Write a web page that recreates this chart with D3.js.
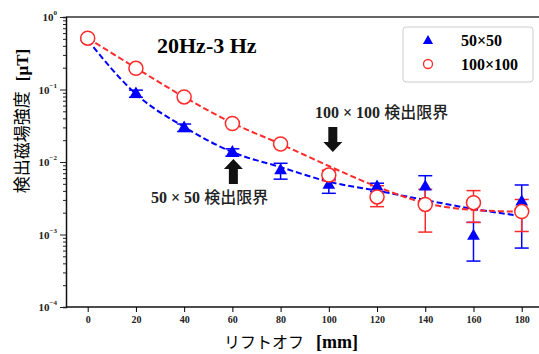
<!DOCTYPE html>
<html>
<head>
<meta charset="utf-8">
<script src="https://cdn.jsdelivr.net/npm/d3@7"></script>
<style>
body { margin: 0; background: #fff; }
text { font-family: "Liberation Serif", "Times New Roman", serif; }
</style>
</head>
<body>
<div id="chart"></div>
<script>
// lift-off distance [mm]
var liftoff = [0, 20, 40, 60, 80, 100, 120, 140, 160, 180];

// 50x50 series (measured, error bar low/high, fitted curve)
var s50     = [0.50, 0.087, 0.0297, 0.0136, 0.0076, 0.0048, 0.00456, 0.00456, 0.00095, 0.00283];
var s50Lo   = [0.47, 0.078, 0.0263, 0.0120, 0.0058, 0.0037, 0.0039, 0.00265, 0.00043, 0.00065];
var s50Hi   = [0.53, 0.098, 0.0334, 0.0152, 0.0096, 0.0058, 0.0051, 0.00647, 0.00147, 0.00482];
var s50Fit  = [0.48, 0.0867, 0.0304, 0.0137, 0.0085, 0.00535, 0.00402, 0.00299, 0.00225, 0.0018];

// 100x100 series
var s100    = [0.51, 0.196, 0.079, 0.034, 0.0177, 0.0066, 0.0033, 0.0026, 0.00275, 0.00207];
var s100Lo  = [0.48, 0.185, 0.075, 0.032, 0.0168, 0.0055, 0.00242, 0.00108, 0.00147, 0.0011];
var s100Hi  = [0.54, 0.208, 0.083, 0.036, 0.0187, 0.0077, 0.00471, 0.0042, 0.00403, 0.00304];
var s100Fit = [0.513, 0.198, 0.0788, 0.0345, 0.0177, 0.0088, 0.00456, 0.00272, 0.00218, 0.00206];

var xTicks = [0, 20, 40, 60, 80, 100, 120, 140, 160, 180];
var yTicks = [1, 0.1, 0.01, 0.001, 0.0001];
var yExp   = ["0", "\u22121", "\u22122", "\u22123", "\u22124"];

var blue = "#0000ff", red = "#ff2a2a";

var W = 539, H = 354;
var margin = {top: 17, left: 66, right: 0, bottom: 47};
var width = W - margin.left - margin.right + 2,
    height = H - margin.top - margin.bottom;

var svg = d3.select("#chart").append("svg")
    .attr("width", W).attr("height", H);

var g = svg.append("g").attr("transform", "translate(" + margin.left + "," + margin.top + ")");

var x = d3.scaleLinear().domain([-9, 188]).range([0, width]);
var y = d3.scaleLog().domain([1e-4, 1]).range([height, 0]);

// frame
g.append("line").attr("x1", 0).attr("x2", width).attr("y1", 0).attr("y2", 0)
  .attr("stroke", "#666").attr("stroke-width", 2);

// y axis with log minor ticks
var yAxis = g.append("g").attr("class", "axis axis--y")
  .call(d3.axisLeft(y).tickValues(y.ticks()).tickSize(3).tickFormat(""));
yAxis.selectAll(".tick line").attr("x2", function(d) {
  return yTicks.indexOf(d) >= 0 ? -6 : -3;
}).attr("stroke", "#222");
yAxis.select(".domain").attr("stroke", "#111").attr("stroke-width", 1.5);

var yl = g.selectAll(".ylab").data(yTicks).enter().append("text")
  .attr("class", "ylab")
  .attr("x", -9).attr("y", function(d) { return y(d) + 4; })
  .attr("text-anchor", "end")
  .style("font-size", "11px").style("font-weight", "bold").attr("fill", "#222");
yl.append("tspan").text("10");
yl.append("tspan").attr("dy", -6).style("font-size", "7px").text(function(d, i) { return yExp[i]; });

// x axis
var xAxis = g.append("g").attr("class", "axis axis--x")
  .attr("transform", "translate(0," + height + ")")
  .call(d3.axisBottom(x).tickValues(xTicks).tickSize(5).tickPadding(4));
xAxis.select(".domain").attr("stroke", "#111").attr("stroke-width", 1.5).attr("d", "M0,0H" + width);
xAxis.selectAll("text").style("font-family", "Liberation Serif").style("font-size", "10px")
  .style("font-weight", "bold").attr("fill", "#222");

// axis titles
var yt = svg.append("text")
  .attr("transform", "translate(28,121) rotate(-90)")
  .attr("text-anchor", "middle");
yt.append("tspan").style("font-family", "'Noto Sans CJK JP', sans-serif").style("font-size", "17px")
  .text("検出磁場強度");
yt.append("tspan").attr("dx", 10).style("font-weight", "bold").style("font-size", "17px").text("[μT]");

var xt = svg.append("text")
  .attr("x", 291).attr("y", 348)
  .attr("text-anchor", "middle");
xt.append("tspan").style("font-family", "'Noto Sans CJK JP', sans-serif").style("font-size", "16px")
  .text("リフトオフ");
xt.append("tspan").attr("dx", 12).style("font-weight", "bold").style("font-size", "18px").text("[mm]");

// fit lines
function fitLine(vals, color) {
  var line = d3.line()
    .x(function(d, i) { return x(liftoff[i]); })
    .y(function(d) { return y(d); })
    .curve(d3.curveMonotoneX);
  g.append("path").datum(vals)
    .attr("fill", "none").attr("stroke", color).attr("stroke-width", 2)
    .attr("stroke-dasharray", "6,3").attr("d", line);
}
fitLine(s50Fit, blue);
fitLine(s100Fit, red);

// error bars
function errBars(lo, hi, color) {
  var eb = g.append("g").selectAll("g").data(liftoff).enter().append("g");
  eb.append("line")
    .attr("x1", function(d) { return x(d); }).attr("x2", function(d) { return x(d); })
    .attr("y1", function(d, i) { return y(lo[i]); }).attr("y2", function(d, i) { return y(hi[i]); })
    .attr("stroke", color).attr("stroke-width", 1.5);
  [lo, hi].forEach(function(arr) {
    eb.append("line")
      .attr("x1", function(d) { return x(d) - 7; }).attr("x2", function(d) { return x(d) + 7; })
      .attr("y1", function(d, i) { return y(arr[i]); }).attr("y2", function(d, i) { return y(arr[i]); })
      .attr("stroke", color).attr("stroke-width", 1.5);
  });
}
errBars(s50Lo, s50Hi, blue);
errBars(s100Lo, s100Hi, red);

// markers
g.selectAll(".tri").data(s50).enter().append("path").attr("class", "tri")
  .attr("d", d3.symbol(d3.symbolTriangle, 70))
  .attr("transform", function(d, i) { return "translate(" + x(liftoff[i]) + "," + y(d) + ")"; })
  .attr("fill", blue);
g.selectAll(".circ").data(s100).enter().append("circle").attr("class", "circ")
  .attr("cx", function(d, i) { return x(liftoff[i]); })
  .attr("cy", function(d) { return y(d); })
  .attr("r", 7).attr("fill", "#fff").attr("stroke", red).attr("stroke-width", 1.5);

// title
svg.append("text").attr("x", 157).attr("y", 53)
  .style("font-size", "22px").style("font-weight", "bold").text("20Hz-3 Hz");

// legend
var lg = svg.append("g").attr("transform", "translate(403,27)");
lg.append("rect").attr("width", 130).attr("height", 55).attr("rx", 3)
  .attr("fill", "#fff").attr("stroke", "#ccc");
lg.append("path").attr("d", d3.symbol(d3.symbolTriangle, 45))
  .attr("transform", "translate(25,14)").attr("fill", blue);
lg.append("circle").attr("cx", 25).attr("cy", 37).attr("r", 4.5)
  .attr("fill", "#fff").attr("stroke", red).attr("stroke-width", 1.3);
lg.append("text").attr("x", 58).attr("y", 19).style("font-size", "16px").style("font-weight", "bold").text("50×50");
lg.append("text").attr("x", 58).attr("y", 43).style("font-size", "16px").style("font-weight", "bold").text("100×100");

// detection-limit annotations
function label(tx, ty, num) {
  var t = svg.append("text").attr("x", tx).attr("y", ty)
    .style("font-size", "16px").style("font-weight", "bold").attr("fill", "#222");
  t.append("tspan").text(num);
  t.append("tspan").attr("dx", 4).style("font-family", "'Noto Sans CJK JP', sans-serif")
    .style("font-weight", "500").style("font-size", "16px").text("検出限界");
}
label(315, 118, "100 × 100");
label(151, 203, "50 × 50");

function arrow(cx, tipY, dir) {
  // dir = 1 points down, -1 points up
  var sw = 4.5, hw = 9.5, head = 10, shaft = 15;
  var base = tipY - dir * head, end = base - dir * shaft;
  svg.append("path").attr("fill", "#111")
    .attr("d", "M" + (cx - sw) + "," + end + "L" + (cx + sw) + "," + end +
      "L" + (cx + sw) + "," + base + "L" + (cx + hw) + "," + base +
      "L" + cx + "," + tipY + "L" + (cx - hw) + "," + base +
      "L" + (cx - sw) + "," + base + "Z");
}
arrow(margin.left + x(100) + 4, 152, 1);
arrow(margin.left + x(60) + 1, 159, -1);
</script>
</body>
</html>
